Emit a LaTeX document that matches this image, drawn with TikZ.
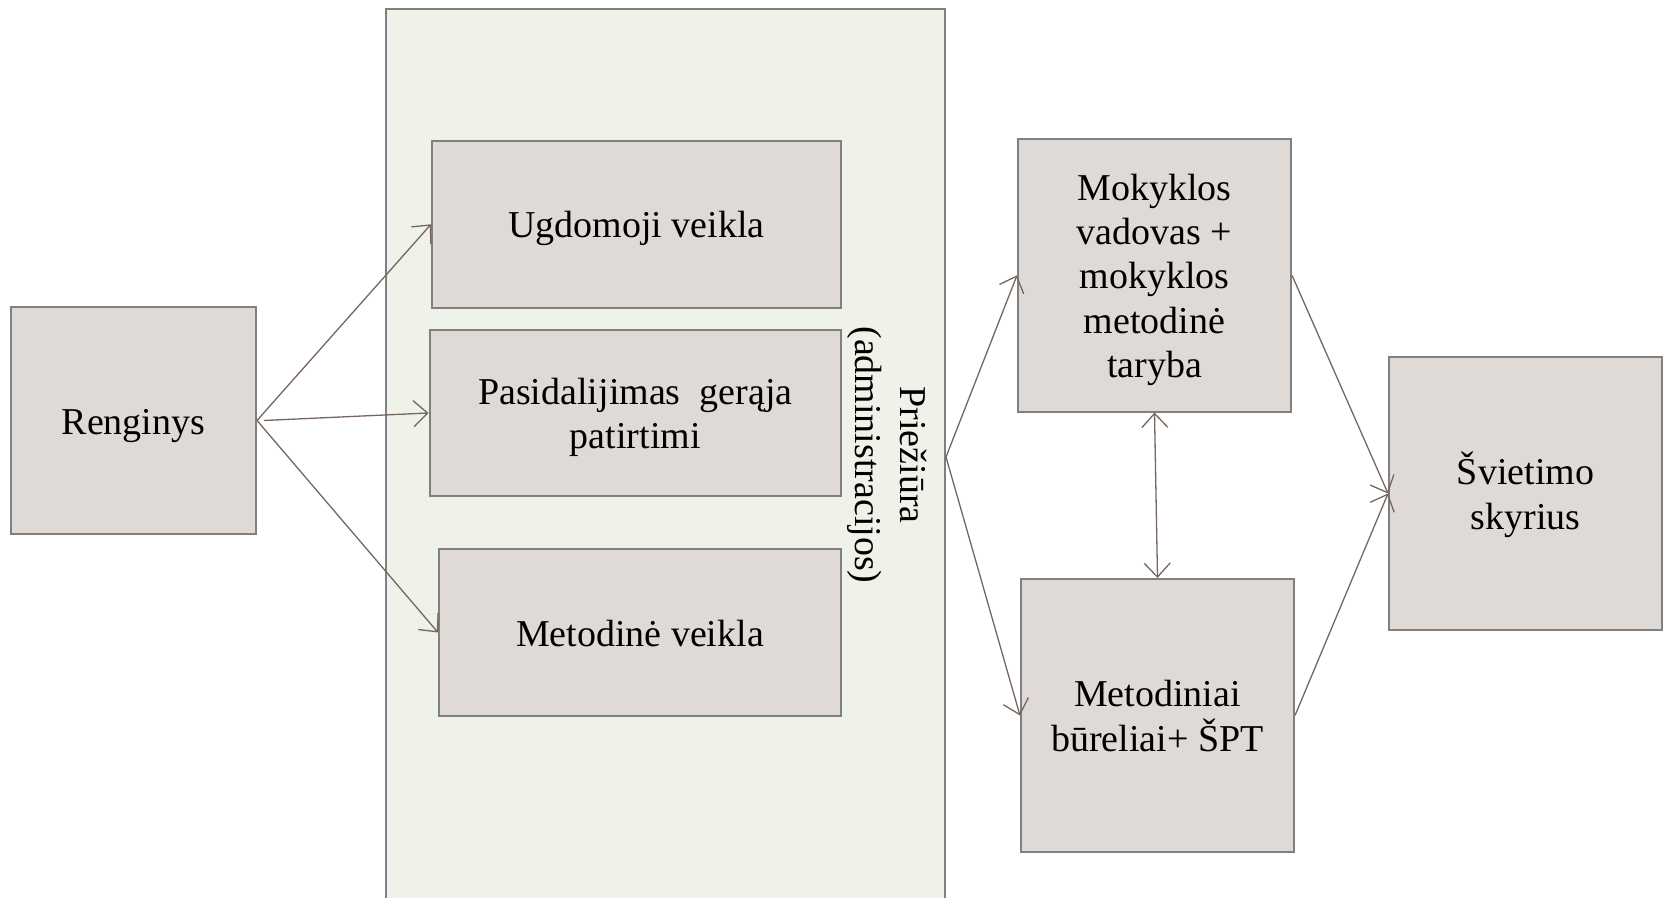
\documentclass[tikz,border=0pt]{standalone}
\usepackage{fontspec}
\setmainfont{Liberation Serif}
\usetikzlibrary{arrows.meta}

\definecolor{boxfill}{HTML}{DFDAD6}
\definecolor{ctrfill}{HTML}{EFF2E9}
\definecolor{edgegray}{HTML}{808080}
\definecolor{arrowc}{HTML}{76665F}

% eilutės aukštis kaip teksto rengyklėje
\newcommand{\virsus}{\rule{0pt}{10.2pt}}
\newcommand{\apacia}{\rule[-2.4pt]{0pt}{2.4pt}}

\begin{document}
\begin{tikzpicture}[
    >={Straight Barb[length=0.14cm, width=0.26cm]},
    blokas/.style={draw=edgegray, fill=boxfill, line width=0.02cm, align=center,
      inner sep=0pt, font=\fontsize{10.8}{12.65}\selectfont},
    rodykle/.style={arrowc, line width=0.013cm}
  ]

  \useasboundingbox (0,0) rectangle (16.63,8.98);

  % priežiūros laukas
  \node [draw=edgegray, fill=ctrfill, line width=0.02cm, minimum width=5.59cm, minimum height=8.955cm] (ctr) at (6.655,4.41) {};
  \node [align=center, rotate=-90, font=\fontsize{10.8}{12.65}\selectfont] (pri) at (8.87,4.43)
    {Priežiūra\\(administracijos)};

  % blokai
  \node [blokas, minimum width=2.45cm, minimum height=2.27cm] (ren) at (1.335,4.775) {\virsus Renginys\apacia};
  \node [blokas, minimum width=4.09cm, minimum height=1.666cm] (ugd) at (6.365,6.737) {\virsus Ugdomoji veikla\apacia};
  \node [blokas, minimum width=4.115cm, minimum height=1.66cm] (pas) at (6.353,4.85)
    {\virsus Pasidalijimas~ gerąja\\patirtimi\apacia};
  \node [blokas, minimum width=4.02cm, minimum height=1.67cm] (met) at (6.40,2.655) {\virsus Metodinė veikla\apacia};
  \node [blokas, minimum width=2.73cm, minimum height=2.725cm] (mok) at (11.545,6.227)
    {\virsus Mokyklos\\vadovas +\\mokyklos\\metodinė\\taryba\apacia};
  \node [blokas, minimum width=2.73cm, minimum height=2.73cm] (bur) at (11.575,1.825)
    {\virsus Metodiniai\\būreliai+ ŠPT\apacia};
  \node [blokas, minimum width=2.73cm, minimum height=2.73cm] (svi) at (15.255,4.045)
    {\virsus Švietimo\\skyrius\apacia};

  % rodyklės
  \draw [rodykle, ->] (ren.east) -- (ugd.west);
  \draw [rodykle, ->] ([xshift=0.07cm]ren.east) -- (pas.west);
  \draw [rodykle, ->] (ren.east) -- (met.west);
  \foreach \y in {mok,bur} {
    \draw [rodykle, ->] (ctr.east) -- (\y.west);
    \draw [rodykle, ->] (\y.east) -- (svi.west);
  }
  \draw [rodykle, <->] (mok.south) -- (bur.north);
\end{tikzpicture}
\end{document}
